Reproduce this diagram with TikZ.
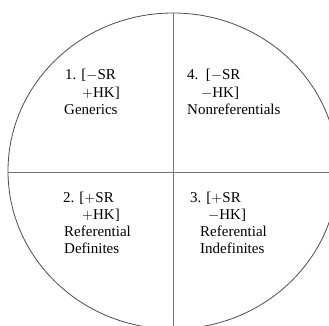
\documentclass[tikz,border=0pt]{standalone}
\usepackage{fontspec}
\setmainfont{Liberation Serif}
\usetikzlibrary{positioning}

\tikzset{
    rim/.style={draw=black!70, line width=0.8pt},
    cut/.style={draw=black!55, line width=0.8pt},
    lbl/.style={anchor=base west, inner sep=0pt, font=\fontsize{15}{17}\selectfont}
}

\begin{document}
\begin{tikzpicture}[x=1pt,y=1pt]
    \useasboundingbox (0,0) rectangle (329,-326);
    \clip (0,0) rectangle (329,-326);
    % circle and the two cuts
    \coordinate (ctr) at (173,-171);
    \coordinate (west) at (8,-172);
    \coordinate (east) at (338,-172);
    \coordinate (top) at (173,-13);
    \coordinate (bot) at (173,-329);
    \draw [rim] (ctr) ellipse (165 and 158);
    \draw [cut] (west) -- (east);
    \draw [cut] (top) -- (bot);
    % quadrant 1
    \node [lbl] (q1a) at (65,-80) {1. [$-$SR};
    \node [lbl] (q1b) at (82,-97.5) {$+$HK]};
    \node [lbl] (q1c) at (64,-115) {Generics};
    % quadrant 4
    \node [lbl] (q4a) at (187,-80) {4.\ \ [$-$SR};
    \node [lbl] (q4b) at (201,-97.5) {$-$HK]};
    \node [lbl] (q4c) at (187,-115) {Nonreferentials};
    % quadrant 2
    \node [lbl] (q2a) at (63,-202) {2. [$+$SR};
    \node [lbl] (q2b) at (82,-219) {$+$HK]};
    \node [lbl] (q2c) at (64,-236) {Referential};
    \node [lbl] (q2d) at (64,-253) {Definites};
    % quadrant 3
    \node [lbl] (q3a) at (190,-202) {3. [$+$SR};
    \node [lbl] (q3b) at (208,-219) {$-$HK]};
    \node [lbl] (q3c) at (200,-236) {Referential};
    \node [lbl] (q3d) at (200,-253) {Indefinites};
\end{tikzpicture}
\end{document}
